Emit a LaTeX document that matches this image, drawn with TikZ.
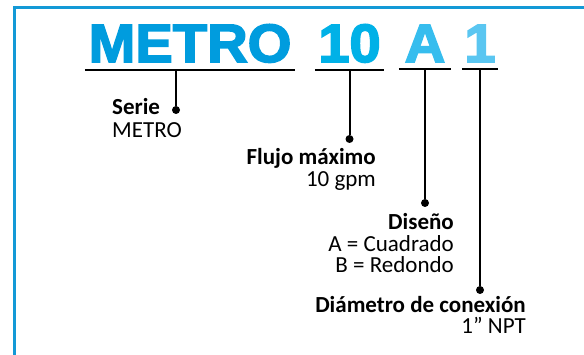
\documentclass[tikz,border=0pt]{standalone}
\usepackage{fontspec}
\setmainfont{Carlito}
\newfontfamily\titlefont{Liberation Sans}[BoldFeatures={FakeBold=3, FakeStretch=1.04}]
\definecolor{metroblue}{HTML}{009CDE}
\definecolor{flowblue}{HTML}{00B1E7}
\definecolor{designblue}{HTML}{36BDEE}
\definecolor{connblue}{HTML}{5AC6F1}
\definecolor{frameblue}{HTML}{1399D6}
\tikzset{
  code/.style={font=\titlefont\bfseries\fontsize{54}{54}\selectfont, inner xsep=0pt, inner ysep=7pt, anchor=base},
  head/.style={font=\bfseries\fontsize{23}{26}\selectfont, inner sep=0pt},
  val/.style={font=\fontsize{23}{26}\selectfont, inner sep=0pt},
  bar/.style={line width=2pt},
  pin/.style={circle, fill, inner sep=0pt, minimum size=8pt},
}
\begin{document}
\begin{tikzpicture}[x=1pt, y=-1pt]
  \clip (0,0) rectangle (584,355);
  \draw[frameblue, line width=3pt] (14,8) rectangle (620,400);
  \node[code, metroblue, minimum width=210pt] (metro) at (190,62) {METRO};
  \node[code, flowblue, minimum width=69pt] (flow) at (349.5,62) {10};
  \node[code, designblue, minimum width=52pt] (design) at (425,62) {A};
  \node[code, connblue, minimum width=36pt] (conn) at (480,62) {1};
  \foreach \n in {metro,flow,design,conn}
    \draw[bar] (\n.south west) -- (\n.south east);
  \node[pin] (pserie) at (176,110) {};
  \node[pin] (pflow) at (349.5,139) {};
  \node[pin] (pdesign) at (425,203) {};
  \node[pin] (pconn) at (480,290) {};
  \draw[bar] (metro.south -| pserie) -- (pserie);
  \draw[bar] (flow.south) -- (pflow);
  \draw[bar] (design.south) -- (pdesign);
  \draw[bar] (conn.south) -- (pconn);
  \node[head, anchor=base west] (serie) at (112,115) {Serie};
  \node[val, anchor=base west] (seriev) at ([yshift=-23pt]serie.base west) {METRO};
  \node[head, anchor=base east] (flujo) at (376,165) {Flujo máximo};
  \node[val, anchor=base east] (flujov) at ([yshift=-22pt]flujo.base east) {10 gpm};
  \node[head, anchor=base east] (diseno) at (454,230) {Diseño};
  \node[val, anchor=base east] (disenoa) at ([yshift=-22pt]diseno.base east) {A = Cuadrado};
  \node[val, anchor=base east] (disenob) at ([yshift=-21pt]disenoa.base east) {B = Redondo};
  \node[head, anchor=base east] (diam) at (526,313) {Diámetro de conexión};
  \node[val, anchor=base east] (diamv) at ([yshift=-21pt]diam.base east) {1” NPT};
\end{tikzpicture}
\end{document}
